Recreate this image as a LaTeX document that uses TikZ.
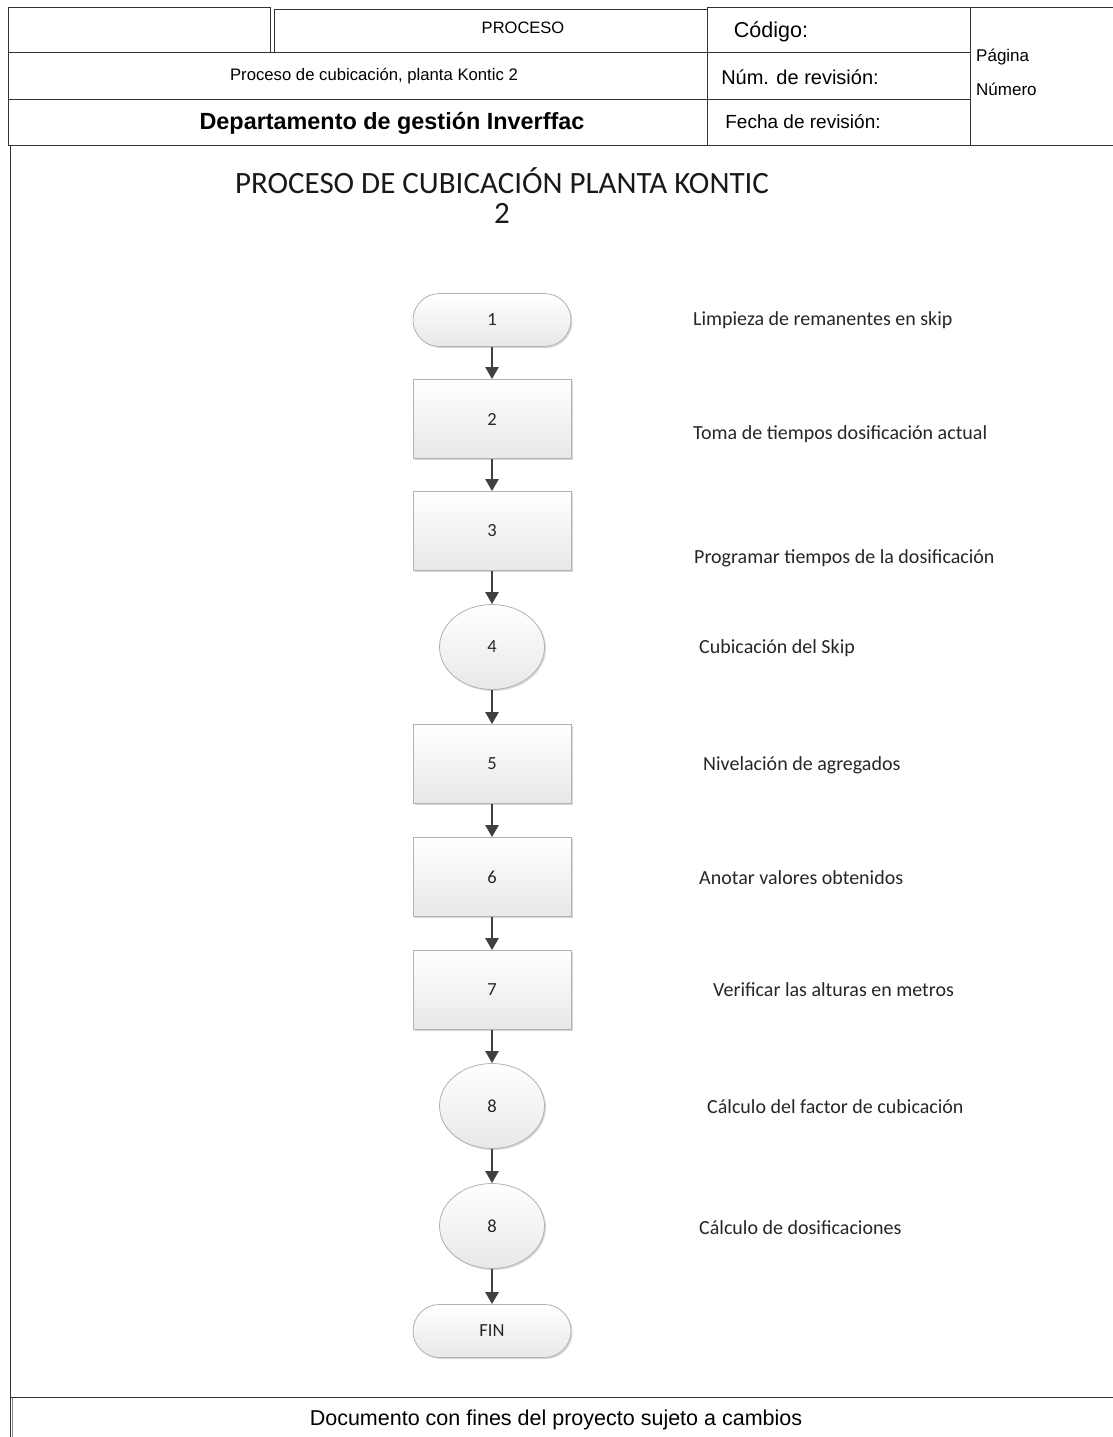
\documentclass[tikz,border=0pt]{standalone}
\usepackage{fontspec}
\setmainfont{Liberation Sans}
\newfontfamily\carlitofont{Carlito}
\usetikzlibrary{arrows.meta,shapes.geometric,shapes.misc,shadows}
\begin{document}
\begin{tikzpicture}[x=1pt,y=-1pt,
  frame/.style={draw=black!80,line width=1pt},
  hdr/.style={font=\fontsize{16.7}{19}\selectfont,inner sep=0pt},
  shade/.style={draw=black!30,line width=0.8pt,top color=white,bottom color=black!9,
    drop shadow={shadow xshift=1.5pt,shadow yshift=-1.5pt,fill=black!25,opacity=0.6}},
  term/.style={shade,rounded rectangle,minimum width=158pt,minimum height=53pt,inner sep=0pt},
  procbox/.style={shade,rectangle,minimum width=158pt,minimum height=79pt,inner sep=0pt},
  conn/.style={shade,ellipse,minimum width=105pt,minimum height=85pt,inner sep=0pt},
  num/.style={font=\carlitofont\fontsize{18.5}{20}\selectfont\color{black!85}},
  lab/.style={anchor=west,font=\carlitofont\fontsize{20}{22}\selectfont,text=black!85,inner sep=0pt},
  flow/.style={draw=black!75,line width=2.4pt,-{Triangle[width=13pt,length=12pt]}}]
\useasboundingbox (0,0) rectangle (1113,1437);
\fill[white] (0,0) rectangle (1113,1437);

% header table
\draw[frame] (8,8) rectangle (270,53);
\draw[frame] (274,10) rectangle (707,53);
\draw[frame] (8,53) rectangle (707,99);
\draw[frame] (8,99) rectangle (707,145);
\draw[frame] (707,8) rectangle (970,53);
\draw[frame] (707,53) rectangle (970,99);
\draw[frame] (707,99) rectangle (970,145);
\draw[frame] (970,8) -- (1113,8);
\draw[frame] (970,145) -- (1113,145);

\node[hdr,font=\fontsize{16.5}{18}\selectfont] (hproc) at (523,28) {PROCESO};
\node[hdr,font=\fontsize{21.5}{23}\selectfont] (hcod) at (771,32) {Código:};
\node[hdr] (htit) at (374,76) {Proceso de cubicación, planta Kontic 2};
\node[hdr,font=\fontsize{20}{22}\selectfont] (hrev) at (800,77) {Núm. de revisión:};
\node[hdr,font=\bfseries\fontsize{23.4}{25}\selectfont] (hdep) at (392,123) {Departamento de gestión Inverffac};
\node[hdr,font=\fontsize{19}{21}\selectfont] (hfec) at (803,122) {Fecha de revisión:};
\node[hdr,anchor=west,font=\fontsize{17}{19}\selectfont] (hpag) at (976,57) {Página};
\node[hdr,anchor=west,font=\fontsize{17}{19}\selectfont] (hnum) at (976,89) {Número};

% page frame and footer
\draw[frame] (10.5,145) -- (10.5,1437);
\draw[draw=black!45,line width=0.8pt] (12.5,1397) -- (12.5,1437);
\draw[frame] (10.5,1397) -- (1113,1397);
\node[hdr,font=\fontsize{21.5}{23}\selectfont] (foot) at (556,1420) {Documento con fines del proyecto sujeto a cambios};

% title
\node[font=\carlitofont\fontsize{31}{30}\selectfont,align=center,text=black!90] (title) at (502,196)
  {PROCESO DE CUBICACIÓN PLANTA KONTIC\\2};

% flowchart
\node[term]    (s1) at (492,320)  {}; \node[num] at (s1) {1};
\node[procbox] (s2) at (492,419)  {}; \node[num] at (s2) {2};
\node[procbox] (s3) at (492,531)  {}; \node[num] at (s3) {3};
\node[conn]    (s4) at (492,647)  {}; \node[num] at (s4) {4};
\node[procbox] (s5) at (492,764)  {}; \node[num] at (s5) {5};
\node[procbox] (s6) at (492,877)  {}; \node[num] at (s6) {6};
\node[procbox] (s7) at (492,990)  {}; \node[num] at (s7) {7};
\node[conn]    (s8) at (492,1106) {}; \node[num] at (s8) {8};
\node[conn]    (s9) at (492,1226) {}; \node[num] at (s9) {8};
\node[term]    (s10) at (492,1331) {}; \node[num] at (s10) {FIN};

\foreach \a/\b in {s1/s2,s2/s3,s3/s4,s4/s5,s5/s6,s6/s7,s7/s8,s8/s9,s9/s10}
  \draw[flow] (\a) -- (\b);

% step descriptions
\node[lab] (l1) at (693,320)  {Limpieza de remanentes en skip};
\node[lab] (l2) at (693,434)  {Toma de tiempos dosificación actual};
\node[lab] (l3) at (694,558)  {Programar tiempos de la dosificación};
\node[lab] (l4) at (699,648)  {Cubicación del Skip};
\node[lab] (l5) at (703,765)  {Nivelación de agregados};
\node[lab] (l6) at (699,878)  {Anotar valores obtenidos};
\node[lab] (l7) at (713,990)  {Verificar las alturas en metros};
\node[lab] (l8) at (707,1107) {Cálculo del factor de cubicación};
\node[lab] (l9) at (699,1228) {Cálculo de dosificaciones};
\end{tikzpicture}
\end{document}
